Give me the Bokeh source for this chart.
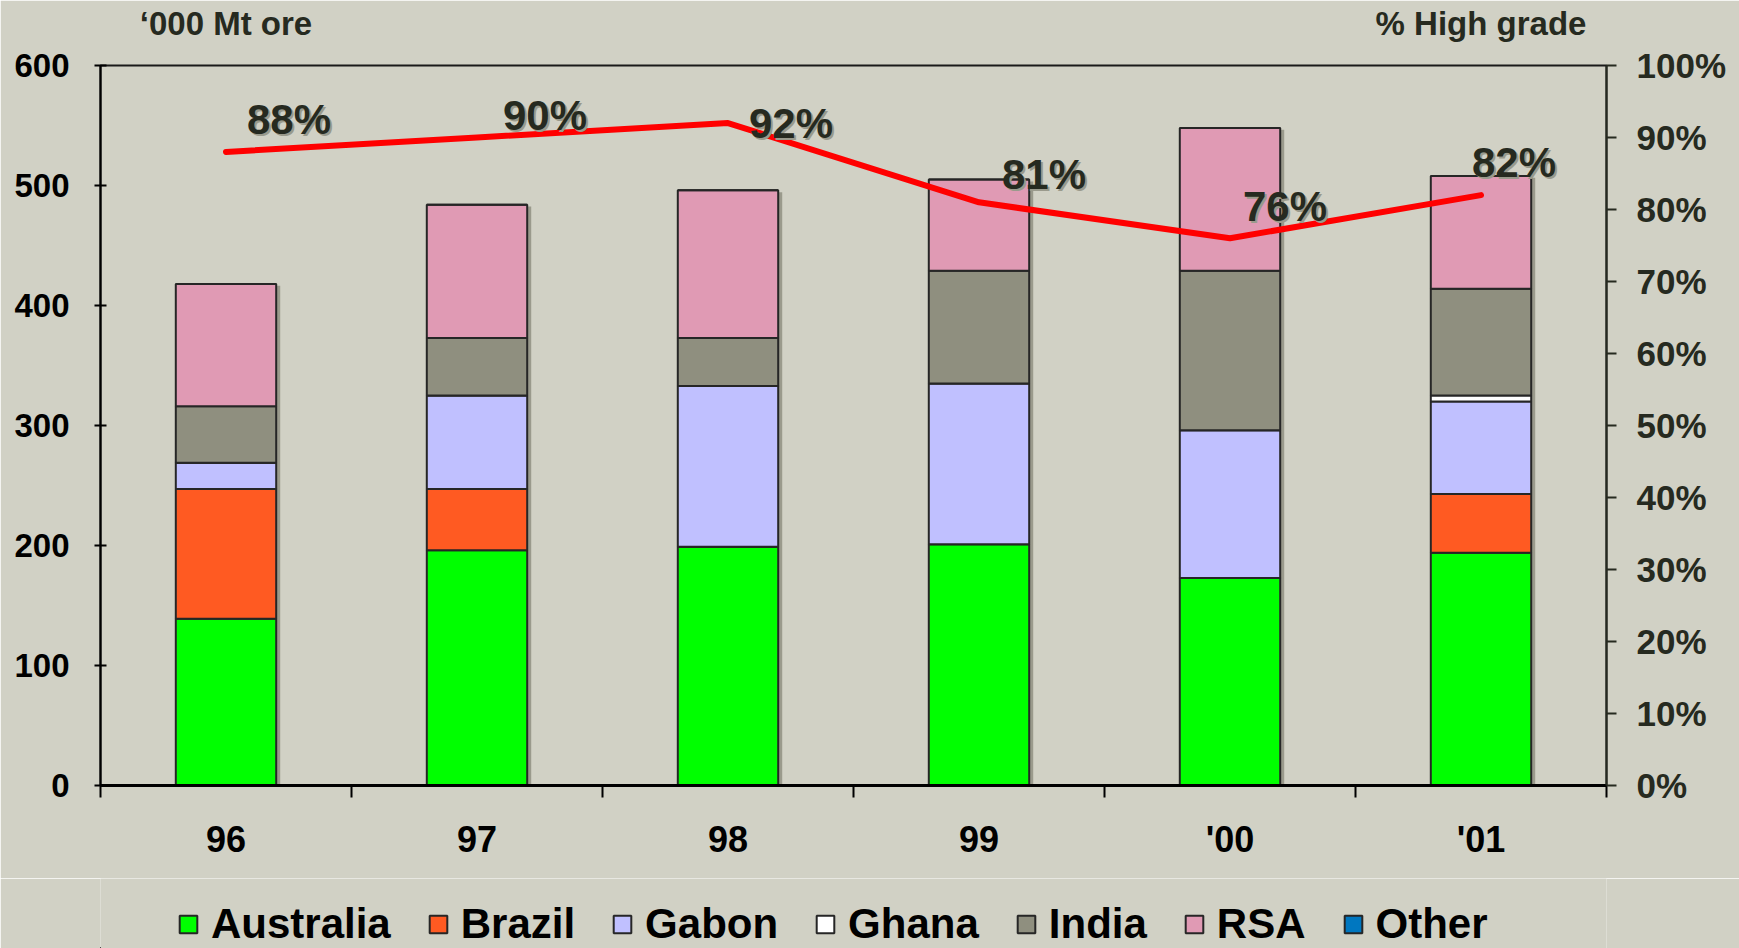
from bokeh.plotting import figure
from bokeh.layouts import column
from bokeh.models import (Range1d, LinearAxis, FixedTicker, PrintfTickFormatter,
                          Legend, LegendItem)
from bokeh.core.properties import value
from bokeh.embed import file_html
from bokeh.resources import INLINE

# ---------------- data ----------------
years = ["96", "97", "98", "99", "'00", "'01"]
australia = [139, 196, 199, 201, 173, 194]
brazil = [108, 51, 0, 0, 0, 49]
gabon = [22, 78, 134, 134, 123, 77]
ghana = [0, 0, 0, 0, 0, 5]
india = [47, 48, 40, 94, 133, 89]
rsa = [102, 111, 123, 76, 119, 94]
other = [0, 0, 0, 0, 0, 0]
high_grade = [88, 90, 92, 81, 76, 82]

series_names = ["Australia", "Brazil", "Gabon", "Ghana", "India", "RSA", "Other"]
series_values = [australia, brazil, gabon, ghana, india, rsa, other]
left_ticks = [0, 100, 200, 300, 400, 500, 600]
right_ticks = [0, 10, 20, 30, 40, 50, 60, 70, 80, 90, 100]
left_title = "\u2018000 Mt ore"
right_title = "% High grade"

# ---------------- styles ----------------
colors = ["#00FF00", "#FF5A22", "#C0C0FF", "#FFFFFF", "#8F8F7F", "#E09AB4", "#0077C0"]
FONT = "Liberation Sans"
BG = "#D1D1C5"
INK = "#262A20"
SHADOW = "#9A9A8C"
label_dx = [63, 68, 63, 65, 55, 33]     # data label offsets (px)
label_dy = [-32, -22, 0, -28, -32, -33]

xs = list(range(1, len(years) + 1))

p = figure(frame_width=1506, frame_height=720,
           min_border_left=100, min_border_right=133,
           min_border_top=65, min_border_bottom=93,
           x_range=Range1d(0.5, len(years) + 0.5), y_range=Range1d(0, 600),
           output_backend="svg", toolbar_location=None)
p.extra_y_ranges = {"pct": Range1d(0, 100)}

p.background_fill_color = BG
p.border_fill_color = BG
p.outline_line_color = "#1A1A1A"
p.outline_line_width = 2
p.xgrid.visible = False
p.ygrid.visible = False

# x axis (below)
xa = p.xaxis[0]
xa.ticker = FixedTicker(ticks=xs, minor_ticks=[i + 0.5 for i in range(len(years) + 1)])
xa.major_label_overrides = {i: y for i, y in zip(xs, years)}
xa.major_tick_in = 0
xa.major_tick_out = 0
xa.minor_tick_in = 0
xa.minor_tick_out = 12
xa.minor_tick_line_color = "black"
xa.minor_tick_line_width = 2
xa.axis_line_width = 3
xa.axis_line_color = "black"
xa.major_label_standoff = 21
xa.major_label_text_font = FONT
xa.major_label_text_font_style = "bold"
xa.major_label_text_font_size = "36px"
xa.major_label_text_color = "black"

# axis titles, drawn as labels of a bare axis above the frame
ta = LinearAxis(ticker=FixedTicker(ticks=[xs[0], xs[-1]]),
                major_label_overrides={xs[0]: left_title, xs[-1]: right_title})
ta.axis_line_color = None
ta.major_tick_line_color = None
ta.minor_tick_line_color = None
ta.major_tick_in = 0
ta.major_tick_out = 0
ta.major_label_standoff = 24
ta.major_label_text_font = FONT
ta.major_label_text_font_style = "bold"
ta.major_label_text_font_size = "33px"
ta.major_label_text_color = INK
p.add_layout(ta, "above")

# left axis
ya = p.yaxis[0]
ya.ticker = FixedTicker(ticks=left_ticks)
ya.major_tick_in = 6
ya.major_tick_out = 6
ya.minor_tick_line_color = None
ya.axis_line_width = 2
ya.axis_line_color = "black"
ya.major_tick_line_width = 2
ya.major_label_standoff = 25
ya.major_label_text_font = FONT
ya.major_label_text_font_style = "bold"
ya.major_label_text_font_size = "33px"
ya.major_label_text_color = "black"

# right axis
ra = LinearAxis(y_range_name="pct", ticker=FixedTicker(ticks=right_ticks),
                formatter=PrintfTickFormatter(format="%d%%"))
ra.major_tick_in = 0
ra.major_tick_out = 10
ra.minor_tick_line_color = None
ra.axis_line_width = 2
ra.axis_line_color = INK
ra.major_tick_line_color = INK
ra.major_tick_line_width = 2
ra.major_label_standoff = 20
ra.major_label_text_font = FONT
ra.major_label_text_font_style = "bold"
ra.major_label_text_font_size = "35px"
ra.major_label_text_color = INK
p.add_layout(ra, "right")

# bar shadows
totals = [sum(v) for v in zip(*series_values)]
p.vbar(x=[x + 0.016 for x in xs], bottom=0, top=[t - 1.6 for t in totals], width=0.4,
       fill_color=SHADOW, line_color=None)

# stacked bars
bottom = [0] * len(years)
for name, vals, col in zip(series_names, series_values, colors):
    top = [b + v for b, v in zip(bottom, vals)]
    p.vbar(x=xs, bottom=bottom, top=top, width=0.4, fill_color=col,
           line_color="#262626", line_width=2)
    bottom = top

# line
p.line(xs, high_grade, y_range_name="pct", line_color="#FF0000", line_width=6,
       line_cap="round", line_join="round")

labels_txt = [f"{v}%" for v in high_grade]
p.text(xs, high_grade, text=labels_txt, y_range_name="pct",
       x_offset=[d + 2 for d in label_dx], y_offset=[d + 2 for d in label_dy],
       text_align="center", text_baseline="middle", text_font=value(FONT),
       text_font_style="bold", text_font_size="42px", text_color=SHADOW)
p.text(xs, high_grade, text=labels_txt, y_range_name="pct",
       x_offset=label_dx, y_offset=label_dy,
       text_align="center", text_baseline="middle", text_font=value(FONT),
       text_font_style="bold", text_font_size="42px", text_color=INK)

# ---------------- legend strip (same horizontal layout as the chart) ----------------
lf = figure(frame_width=1506, frame_height=70,
            min_border_left=100, min_border_right=133,
            min_border_top=0, min_border_bottom=0,
            x_range=Range1d(0, 1), y_range=Range1d(0, 1),
            x_axis_type=None, y_axis_type=None,
            output_backend="svg", toolbar_location=None)
lf.background_fill_color = BG
lf.border_fill_color = BG
lf.outline_line_color = None
lf.xgrid.visible = False
lf.ygrid.visible = False
swatches = []
for col in colors:
    # legend proxies: one datum each, kept outside the visible range
    swatches.append(lf.vbar(x=[-5], bottom=[-5], top=[-4], width=0.1, fill_color=col,
                            line_color="#262626", line_width=2))
legend = Legend(items=[LegendItem(label=n, renderers=[r]) for n, r in zip(series_names, swatches)],
                orientation="horizontal", location=(77, 0),
                label_text_font=FONT, label_text_font_style="bold",
                label_text_font_size="42px", label_text_color="black",
                glyph_width=22, glyph_height=22, label_standoff=12, spacing=36,
                padding=0, margin=0, border_line_color=None, background_fill_alpha=0)
lf.add_layout(legend)

open("out.html", "w").write(file_html(column(p, lf, spacing=0), INLINE))
